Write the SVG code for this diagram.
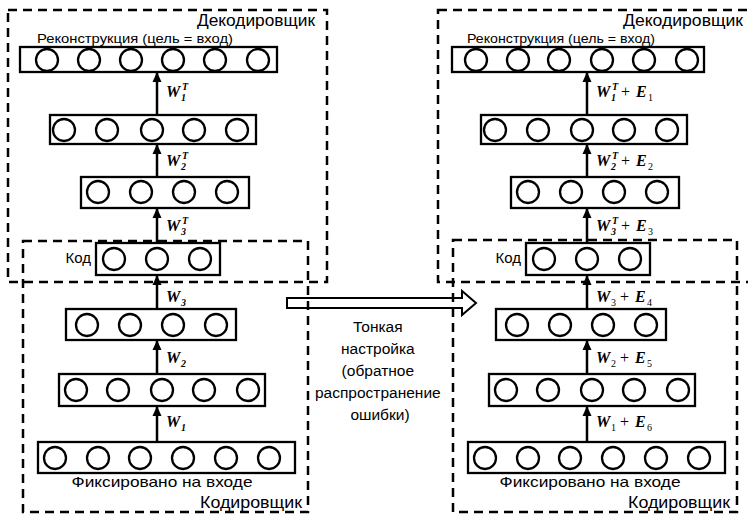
<svg xmlns="http://www.w3.org/2000/svg" width="748" height="517" viewBox="0 0 748 517">
<style>
.bg{fill:#fff}
.dash{fill:none;stroke:#000;stroke-width:2.5;stroke-dasharray:9 6}
.lay{fill:none;stroke:#000;stroke-width:2.3}
.n{fill:#fff;stroke:#000;stroke-width:2.3}
.c{stroke:#000;stroke-width:2.5;fill:none}
.t{font-family:"Liberation Sans",Arial,sans-serif;fill:#000}
.w{font-family:"Liberation Serif","Times New Roman",serif;font-style:italic;font-weight:bold;font-size:16px;fill:#000}
.s{font-size:10px}
.p{font-style:normal;font-weight:normal}
</style>
<defs>
<marker id="ah" markerWidth="10" markerHeight="10" refX="9" refY="5" orient="auto" markerUnits="userSpaceOnUse">
<path d="M0,0.5 L10,5 L0,9.5 Z" fill="#000"/>
</marker>
</defs>
<rect class="bg" x="0" y="0" width="748" height="517"/>

<g id="finetune-arrow">
<polygon points="287,298 462,298 462,291 476,303 462,315 462,308 287,308" fill="#fff" stroke="#000" stroke-width="2"/>
<text class="t" font-size="15.5" text-anchor="middle">
<tspan x="380" y="332">Тонкая</tspan>
<tspan x="380" y="354">настройка</tspan>
<tspan x="380" y="376">(обратное</tspan>
<tspan x="380" y="398">распространение</tspan>
<tspan x="380" y="420">ошибки)</tspan>
</text>
</g>

<!-- LEFT -->
<g id="left-decoder">
<rect class="dash" x="8" y="10" width="319" height="272"/>
<text class="t" x="315" y="26" font-size="16" text-anchor="end" textLength="118" lengthAdjust="spacingAndGlyphs">Декодировщик</text>
</g>
<g id="left-encoder">
<rect class="dash" x="23" y="241" width="285" height="271"/>
<text class="t" x="302" y="508" font-size="16" text-anchor="end" textLength="102" lengthAdjust="spacingAndGlyphs">Кодировщик</text>
</g>

<g id="left-reconstruction">
<text class="t" x="37" y="43" font-size="13" textLength="196" lengthAdjust="spacingAndGlyphs">Реконструкция (цель = вход)</text>
<rect class="lay" x="20" y="47" width="257" height="25"/>
<circle class="n" cx="47" cy="60" r="11"/><circle class="n" cx="89" cy="60" r="11"/><circle class="n" cx="131" cy="60" r="11"/><circle class="n" cx="173" cy="60" r="11"/><circle class="n" cx="215" cy="60" r="11"/><circle class="n" cx="258" cy="60" r="11"/>
</g>
<g id="left-dec5">
<rect class="lay" x="50" y="115" width="206" height="29"/>
<circle class="n" cx="64" cy="130" r="11"/><circle class="n" cx="107" cy="130" r="11"/><circle class="n" cx="152" cy="130" r="11"/><circle class="n" cx="194" cy="130" r="11"/><circle class="n" cx="237" cy="130" r="11"/>
</g>
<g id="left-dec4">
<rect class="lay" x="81" y="177" width="168" height="31"/>
<circle class="n" cx="98" cy="192" r="11"/><circle class="n" cx="141" cy="192" r="11"/><circle class="n" cx="184" cy="192" r="11"/><circle class="n" cx="227" cy="192" r="11"/>
</g>
<g id="left-code">
<text class="t" x="91" y="263" font-size="15" text-anchor="end">Код</text>
<rect class="lay" x="96" y="243" width="124" height="32"/>
<circle class="n" cx="114" cy="259" r="11"/><circle class="n" cx="157" cy="259" r="11"/><circle class="n" cx="200" cy="259" r="11"/>
</g>
<g id="left-enc4">
<rect class="lay" x="66" y="309" width="170" height="31"/>
<circle class="n" cx="87" cy="325" r="11"/><circle class="n" cx="130" cy="325" r="11"/><circle class="n" cx="173" cy="325" r="11"/><circle class="n" cx="216" cy="325" r="11"/>
</g>
<g id="left-enc5">
<rect class="lay" x="59" y="374" width="206" height="32"/>
<circle class="n" cx="76" cy="390" r="11"/><circle class="n" cx="118" cy="390" r="11"/><circle class="n" cx="162" cy="390" r="11"/><circle class="n" cx="204" cy="390" r="11"/><circle class="n" cx="248" cy="390" r="11"/>
</g>
<g id="left-input">
<rect class="lay" x="38" y="442" width="257" height="31"/>
<circle class="n" cx="55" cy="458" r="11"/><circle class="n" cx="98" cy="458" r="11"/><circle class="n" cx="140" cy="458" r="11"/><circle class="n" cx="183" cy="458" r="11"/><circle class="n" cx="226" cy="458" r="11"/><circle class="n" cx="269" cy="458" r="11"/>
<text class="t" x="162" y="487" font-size="15" text-anchor="middle" textLength="181" lengthAdjust="spacingAndGlyphs">Фиксировано на входе</text>
</g>

<!-- RIGHT -->
<g id="right-decoder">
<rect class="dash" x="438" y="10" width="330" height="272"/>
<text class="t" x="743" y="26" font-size="16" text-anchor="end" textLength="120" lengthAdjust="spacingAndGlyphs">Декодировщик</text>
</g>
<g id="right-encoder">
<rect class="dash" x="453" y="240" width="284" height="272"/>
<text class="t" x="730" y="508" font-size="16" text-anchor="end" textLength="102" lengthAdjust="spacingAndGlyphs">Кодировщик</text>
</g>

<g id="right-reconstruction">
<text class="t" x="467" y="43" font-size="13" textLength="188" lengthAdjust="spacingAndGlyphs">Реконструкция (цель = вход)</text>
<rect class="lay" x="452" y="47" width="252" height="25"/>
<circle class="n" cx="476" cy="60" r="11"/><circle class="n" cx="518" cy="60" r="11"/><circle class="n" cx="559" cy="60" r="11"/><circle class="n" cx="602" cy="60" r="11"/><circle class="n" cx="644" cy="60" r="11"/><circle class="n" cx="687" cy="60" r="11"/>
</g>
<g id="right-dec5">
<rect class="lay" x="481" y="115" width="206" height="29"/>
<circle class="n" cx="495" cy="130" r="11"/><circle class="n" cx="538" cy="130" r="11"/><circle class="n" cx="582" cy="130" r="11"/><circle class="n" cx="624" cy="130" r="11"/><circle class="n" cx="667" cy="130" r="11"/>
</g>
<g id="right-dec4">
<rect class="lay" x="511" y="177" width="168" height="31"/>
<circle class="n" cx="528" cy="192" r="11"/><circle class="n" cx="571" cy="192" r="11"/><circle class="n" cx="614" cy="192" r="11"/><circle class="n" cx="657" cy="192" r="11"/>
</g>
<g id="right-code">
<text class="t" x="521" y="263" font-size="15" text-anchor="end">Код</text>
<rect class="lay" x="526" y="243" width="124" height="32"/>
<circle class="n" cx="544" cy="259" r="11"/><circle class="n" cx="587" cy="259" r="11"/><circle class="n" cx="630" cy="259" r="11"/>
</g>
<g id="right-enc4">
<rect class="lay" x="496" y="309" width="170" height="31"/>
<circle class="n" cx="517" cy="325" r="11"/><circle class="n" cx="560" cy="325" r="11"/><circle class="n" cx="603" cy="325" r="11"/><circle class="n" cx="646" cy="325" r="11"/>
</g>
<g id="right-enc5">
<rect class="lay" x="489" y="374" width="206" height="32"/>
<circle class="n" cx="506" cy="390" r="11"/><circle class="n" cx="548" cy="390" r="11"/><circle class="n" cx="592" cy="390" r="11"/><circle class="n" cx="634" cy="390" r="11"/><circle class="n" cx="678" cy="390" r="11"/>
</g>
<g id="right-input">
<rect class="lay" x="468" y="442" width="257" height="31"/>
<circle class="n" cx="485" cy="458" r="11"/><circle class="n" cx="528" cy="458" r="11"/><circle class="n" cx="570" cy="458" r="11"/><circle class="n" cx="613" cy="458" r="11"/><circle class="n" cx="656" cy="458" r="11"/><circle class="n" cx="699" cy="458" r="11"/>
<text class="t" x="590" y="487" font-size="15" text-anchor="middle" textLength="181" lengthAdjust="spacingAndGlyphs">Фиксировано на входе</text>
</g>

<g id="connectors">
<line class="c" x1="157" y1="115" x2="157" y2="73" marker-end="url(#ah)"/>
<line class="c" x1="157" y1="177" x2="157" y2="145" marker-end="url(#ah)"/>
<line class="c" x1="157" y1="243" x2="157" y2="209" marker-end="url(#ah)"/>
<line class="c" x1="157" y1="309" x2="157" y2="276" marker-end="url(#ah)"/>
<line class="c" x1="157" y1="374" x2="157" y2="341" marker-end="url(#ah)"/>
<line class="c" x1="157" y1="442" x2="157" y2="407" marker-end="url(#ah)"/>
<line class="c" x1="587" y1="115" x2="587" y2="73" marker-end="url(#ah)"/>
<line class="c" x1="587" y1="177" x2="587" y2="145" marker-end="url(#ah)"/>
<line class="c" x1="587" y1="243" x2="587" y2="209" marker-end="url(#ah)"/>
<line class="c" x1="587" y1="309" x2="587" y2="276" marker-end="url(#ah)"/>
<line class="c" x1="587" y1="374" x2="587" y2="341" marker-end="url(#ah)"/>
<line class="c" x1="587" y1="442" x2="587" y2="407" marker-end="url(#ah)"/>

<text class="w" x="166" y="97">W<tspan class="s" x="181" y="101">1</tspan><tspan class="s" x="182" y="90">T</tspan></text>
<text class="w" x="166" y="166">W<tspan class="s" x="181" y="170">2</tspan><tspan class="s" x="182" y="159">T</tspan></text>
<text class="w" x="166" y="231">W<tspan class="s" x="181" y="235">3</tspan><tspan class="s" x="182" y="224">T</tspan></text>
<text class="w" x="166" y="302">W<tspan class="s" x="181" y="306">3</tspan></text>
<text class="w" x="166" y="363">W<tspan class="s" x="181" y="367">2</tspan></text>
<text class="w" x="166" y="427">W<tspan class="s" x="181" y="431">1</tspan></text>

<text class="w" x="596" y="97">W<tspan class="s" x="611" y="101">1</tspan><tspan class="s" x="612" y="90">T</tspan><tspan class="p" x="621" y="97">+</tspan><tspan x="636" y="97">E</tspan><tspan class="s p" x="648" y="101">1</tspan></text>
<text class="w" x="596" y="166">W<tspan class="s" x="611" y="170">2</tspan><tspan class="s" x="612" y="159">T</tspan><tspan class="p" x="621" y="166">+</tspan><tspan x="636" y="166">E</tspan><tspan class="s p" x="648" y="170">2</tspan></text>
<text class="w" x="596" y="231">W<tspan class="s" x="611" y="235">3</tspan><tspan class="s" x="612" y="224">T</tspan><tspan class="p" x="621" y="231">+</tspan><tspan x="636" y="231">E</tspan><tspan class="s p" x="648" y="235">3</tspan></text>
<text class="w" x="596" y="302">W<tspan class="s p" x="611" y="306">3</tspan><tspan class="p" x="620" y="302">+</tspan><tspan x="635" y="302">E</tspan><tspan class="s p" x="647" y="306">4</tspan></text>
<text class="w" x="596" y="363">W<tspan class="s p" x="611" y="367">2</tspan><tspan class="p" x="620" y="363">+</tspan><tspan x="635" y="363">E</tspan><tspan class="s p" x="647" y="367">5</tspan></text>
<text class="w" x="596" y="427">W<tspan class="s p" x="611" y="431">1</tspan><tspan class="p" x="620" y="427">+</tspan><tspan x="635" y="427">E</tspan><tspan class="s p" x="647" y="431">6</tspan></text>
</g>
</svg>
